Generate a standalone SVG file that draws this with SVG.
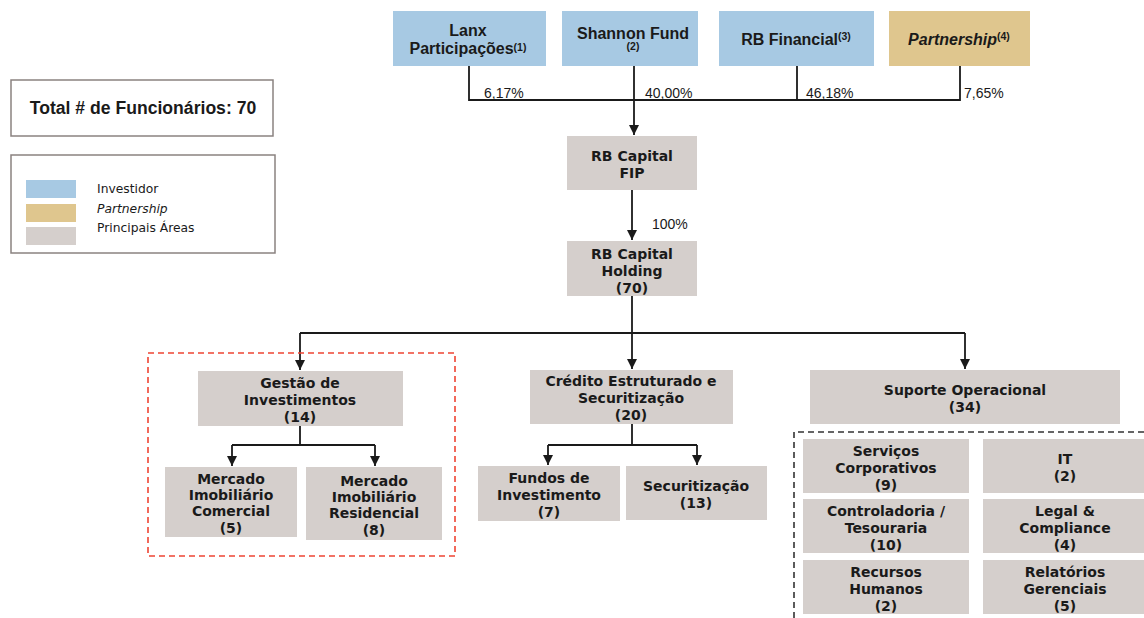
<svg xmlns="http://www.w3.org/2000/svg" width="1144" height="618" viewBox="0 0 1144 618">
<style>
.inv{fill:#a7c9e3}
.par{fill:#dfc68e}
.area{fill:#d5cfcc}
.tt{font-family:"Liberation Sans",Arial,sans-serif;font-weight:bold;font-size:16px;fill:#1a1a1a;text-anchor:middle}
.sup{font-size:10.5px}
.nt{font-family:"DejaVu Sans",Verdana,sans-serif;font-weight:bold;font-size:14px;fill:#1a1a1a;text-anchor:middle}
.pct{font-family:"Liberation Sans",Arial,sans-serif;font-size:14px;fill:#1a1a1a}
.lg{font-family:"DejaVu Sans",Verdana,sans-serif;font-size:12.3px;fill:#1a1a1a}
.ln{stroke:#1a1a1a;stroke-width:1.8;fill:none}
</style>
<defs>
<marker id="ah" viewBox="0 0 10 10" refX="10" refY="5" markerWidth="10" markerHeight="10" markerUnits="userSpaceOnUse" orient="auto">
<path d="M0,0 L10,5 L0,10 z" fill="#1a1a1a"/>
</marker>
</defs>
<rect width="1144" height="618" fill="#ffffff"/>

<g id="total">
<rect x="11" y="80" width="262" height="56" fill="#fff" stroke="#8a8280" stroke-width="1.5"/>
<text x="143" y="114" font-family="Liberation Sans,Arial,sans-serif" font-weight="bold" font-size="17.6" text-anchor="middle" fill="#1a1a1a">Total # de Funcionários: 70</text>
</g>

<g id="legend">
<rect x="11" y="155" width="264" height="98" fill="#fff" stroke="#8a8280" stroke-width="1.5"/>
<rect class="inv" x="26" y="180" width="50" height="18"/>
<rect class="par" x="26" y="204" width="50" height="18"/>
<rect class="area" x="26" y="227" width="50" height="18"/>
<text class="lg" x="97" y="193">Investidor</text>
<text class="lg" x="97" y="213" font-style="italic">Partnership</text>
<text class="lg" x="97" y="232">Principais Áreas</text>
</g>

<g id="connectors">
<path class="ln" d="M469,66 V100 H960 V66 M797,66 V100"/>
<path class="ln" d="M634,66 V135" marker-end="url(#ah)"/>
<path class="ln" d="M632,190 V240" marker-end="url(#ah)"/>
<path class="ln" d="M632,296 V333 M300,333 H965"/>
<path class="ln" d="M300,333 V370" marker-end="url(#ah)"/>
<path class="ln" d="M632,333 V369" marker-end="url(#ah)"/>
<path class="ln" d="M965,333 V369" marker-end="url(#ah)"/>
<path class="ln" d="M300,426 V445 M232,445 H375"/>
<path class="ln" d="M232,445 V466" marker-end="url(#ah)"/>
<path class="ln" d="M375,445 V466" marker-end="url(#ah)"/>
<path class="ln" d="M632,424 V445 M548,445 H697"/>
<path class="ln" d="M548,445 V465" marker-end="url(#ah)"/>
<path class="ln" d="M697,445 V465" marker-end="url(#ah)"/>
<text class="pct" x="484" y="98">6,17%</text>
<text class="pct" x="645" y="98">40,00%</text>
<text class="pct" x="806" y="98">46,18%</text>
<text class="pct" x="964" y="98">7,65%</text>
<text class="pct" x="652" y="229">100%</text>
</g>

<g id="lanx">
<rect class="inv" x="393" y="11" width="153" height="55"/>
<text class="tt" x="468" y="36">Lanx</text>
<text class="tt" x="468" y="54">Participações<tspan class="sup" dy="-3">(1)</tspan></text>
</g>
<g id="shannon">
<rect class="inv" x="562" y="11" width="136" height="55"/>
<text class="tt" x="633" y="39">Shannon Fund</text>
<text class="tt sup" x="633" y="50">(2)</text>
</g>
<g id="rbfinancial">
<rect class="inv" x="719" y="11" width="155" height="55"/>
<text class="tt" x="796" y="45">RB Financial<tspan class="sup" dy="-5">(3)</tspan></text>
</g>
<g id="partnership">
<rect class="par" x="889" y="11" width="141" height="55"/>
<text class="tt" x="959" y="45"><tspan font-style="italic">Partnership</tspan><tspan class="sup" dy="-5">(4)</tspan></text>
</g>

<g id="fip">
<rect class="area" x="567" y="136" width="130" height="54"/>
<text class="nt" x="632" y="161">RB Capital</text>
<text class="nt" x="632" y="178">FIP</text>
</g>
<g id="holding">
<rect class="area" x="567" y="241" width="130" height="55"/>
<text class="nt" x="632" y="259">RB Capital</text>
<text class="nt" x="632" y="276">Holding</text>
<text class="nt" x="632" y="293">(70)</text>
</g>

<g id="gestao-group">
<rect x="148" y="353" width="307" height="203" fill="none" stroke="#ee4433" stroke-width="1.6" stroke-dasharray="6,4"/>
</g>
<g id="gestao">
<rect class="area" x="198" y="371" width="205" height="55"/>
<text class="nt" x="300" y="388">Gestão de</text>
<text class="nt" x="300" y="405">Investimentos</text>
<text class="nt" x="300" y="422">(14)</text>
</g>
<g id="comercial">
<rect class="area" x="165" y="467" width="132" height="70"/>
<text class="nt" x="231" y="484">Mercado</text>
<text class="nt" x="231" y="500">Imobiliário</text>
<text class="nt" x="231" y="516">Comercial</text>
<text class="nt" x="231" y="533">(5)</text>
</g>
<g id="residencial">
<rect class="area" x="306" y="467" width="136" height="73"/>
<text class="nt" x="374" y="486">Mercado</text>
<text class="nt" x="374" y="502">Imobiliário</text>
<text class="nt" x="374" y="518">Residencial</text>
<text class="nt" x="374" y="535">(8)</text>
</g>

<g id="credito">
<rect class="area" x="530" y="370" width="203" height="54"/>
<text class="nt" x="631" y="386">Crédito Estruturado e</text>
<text class="nt" x="631" y="403">Securitização</text>
<text class="nt" x="631" y="420">(20)</text>
</g>
<g id="fundos">
<rect class="area" x="478" y="466" width="142" height="55"/>
<text class="nt" x="549" y="483">Fundos de</text>
<text class="nt" x="549" y="500">Investimento</text>
<text class="nt" x="549" y="517">(7)</text>
</g>
<g id="securitizacao">
<rect class="area" x="626" y="466" width="141" height="54"/>
<text class="nt" x="696" y="491">Securitização</text>
<text class="nt" x="696" y="508">(13)</text>
</g>

<g id="suporte">
<rect class="area" x="810" y="370" width="310" height="54"/>
<text class="nt" x="965" y="395">Suporte Operacional</text>
<text class="nt" x="965" y="412">(34)</text>
</g>
<g id="suporte-group">
<path d="M1144,432 H794 V618" fill="none" stroke="#333" stroke-width="1.6" stroke-dasharray="6,4"/>
</g>
<g id="servicos">
<rect class="area" x="803" y="439" width="166" height="54"/>
<text class="nt" x="886" y="456">Serviços</text>
<text class="nt" x="886" y="473">Corporativos</text>
<text class="nt" x="886" y="490">(9)</text>
</g>
<g id="it">
<rect class="area" x="983" y="439" width="161" height="54"/>
<text class="nt" x="1065" y="464">IT</text>
<text class="nt" x="1065" y="481">(2)</text>
</g>
<g id="controladoria">
<rect class="area" x="803" y="499" width="166" height="54"/>
<text class="nt" x="886" y="516">Controladoria /</text>
<text class="nt" x="886" y="533">Tesouraria</text>
<text class="nt" x="886" y="550">(10)</text>
</g>
<g id="legal">
<rect class="area" x="983" y="499" width="161" height="54"/>
<text class="nt" x="1065" y="516">Legal &amp;</text>
<text class="nt" x="1065" y="533">Compliance</text>
<text class="nt" x="1065" y="550">(4)</text>
</g>
<g id="rh">
<rect class="area" x="803" y="560" width="166" height="54"/>
<text class="nt" x="886" y="577">Recursos</text>
<text class="nt" x="886" y="594">Humanos</text>
<text class="nt" x="886" y="611">(2)</text>
</g>
<g id="relatorios">
<rect class="area" x="983" y="560" width="161" height="54"/>
<text class="nt" x="1065" y="577">Relatórios</text>
<text class="nt" x="1065" y="594">Gerenciais</text>
<text class="nt" x="1065" y="611">(5)</text>
</g>
</svg>
